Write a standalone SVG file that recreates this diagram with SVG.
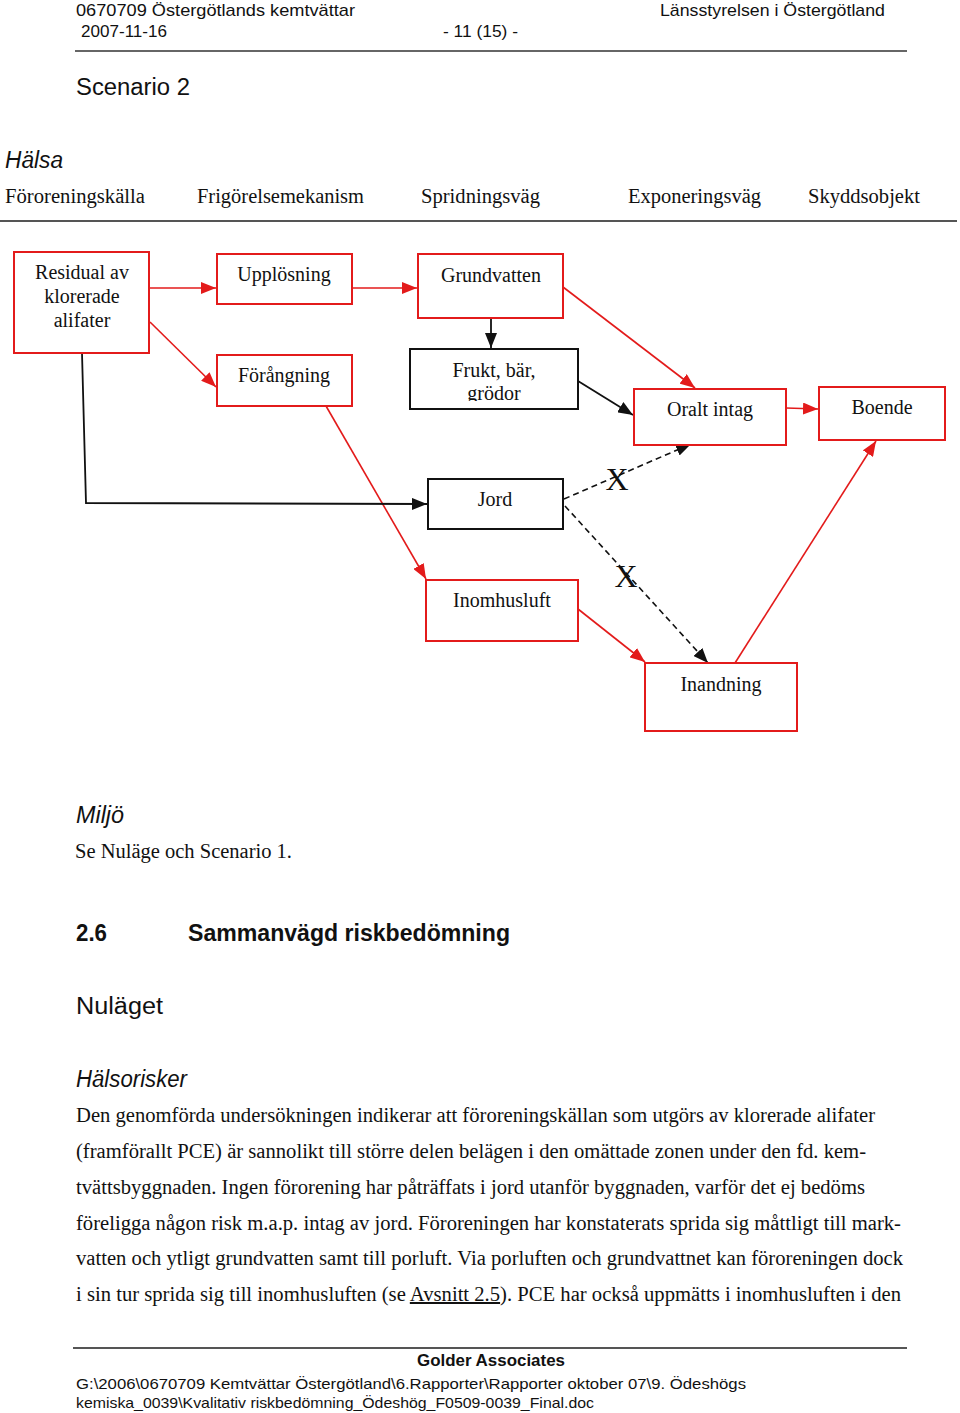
<svg xmlns="http://www.w3.org/2000/svg" width="960" height="1413" viewBox="0 0 960 1413">
<style>
.hd{font-family:"Liberation Sans",Arial,sans-serif;font-size:17px;fill:#111}
.h2{font-family:"Liberation Sans",Arial,sans-serif;font-size:23px;fill:#111}
.it{font-style:italic}
.bd{font-weight:bold}
.sr{font-family:"Liberation Serif","Times New Roman",serif;font-size:20px;fill:#111}
.ft{font-family:"Liberation Sans",Arial,sans-serif;font-size:15px;fill:#111}
.bxr{fill:#fff;stroke:#e31b1b;stroke-width:2}
.bxk{fill:#fff;stroke:#111;stroke-width:2}
.bt{font-family:"Liberation Serif","Times New Roman",serif;font-size:20px;fill:#111;text-anchor:middle}
.cr{fill:none;stroke:#e31b1b;stroke-width:1.6}
.ck{fill:none;stroke:#111;stroke-width:1.8}
.cd{fill:none;stroke:#111;stroke-width:1.6;stroke-dasharray:6,4}
.xm{font-family:"Liberation Serif","Times New Roman",serif;font-size:32px;fill:#111;text-anchor:middle}
</style>
<defs>
<marker id="ar" markerUnits="userSpaceOnUse" markerWidth="16" markerHeight="12" refX="15" refY="6" orient="auto"><path d="M0,0 L15,6 L0,12 z" fill="#e31b1b"/></marker>
<marker id="ak" markerUnits="userSpaceOnUse" markerWidth="16" markerHeight="12" refX="15" refY="6" orient="auto"><path d="M0,0 L15,6 L0,12 z" fill="#111"/></marker>
<clipPath id="fclip"><rect x="410" y="349" width="168" height="52"/></clipPath>
</defs>
<rect width="960" height="1413" fill="#fff"/>

<g id="header">
<text class="hd" x="76" y="16" textLength="279" lengthAdjust="spacingAndGlyphs">0670709 Östergötlands kemtvättar</text>
<text class="hd" x="81" y="37" textLength="86" lengthAdjust="spacingAndGlyphs">2007-11-16</text>
<text class="hd" x="443" y="37" textLength="75" lengthAdjust="spacingAndGlyphs">- 11 (15) -</text>
<text class="hd" x="660" y="16" textLength="225" lengthAdjust="spacingAndGlyphs">Länsstyrelsen i Östergötland</text>
<line x1="75" y1="51" x2="907" y2="51" stroke="#333" stroke-width="1.5"/>
<text class="h2" x="76" y="95" textLength="114" lengthAdjust="spacingAndGlyphs">Scenario 2</text>
<text class="h2 it" x="5" y="168" textLength="58" lengthAdjust="spacingAndGlyphs">Hälsa</text>
<text class="sr" x="5" y="203" textLength="140" lengthAdjust="spacingAndGlyphs">Föroreningskälla</text>
<text class="sr" x="197" y="203" textLength="167" lengthAdjust="spacingAndGlyphs">Frigörelsemekanism</text>
<text class="sr" x="421" y="203" textLength="119" lengthAdjust="spacingAndGlyphs">Spridningsväg</text>
<text class="sr" x="628" y="203" textLength="133" lengthAdjust="spacingAndGlyphs">Exponeringsväg</text>
<text class="sr" x="808" y="203" textLength="112" lengthAdjust="spacingAndGlyphs">Skyddsobjekt</text>
<line x1="0" y1="221" x2="957" y2="221" stroke="#555" stroke-width="2"/>
</g>

<g id="connectors">
<line class="cr" x1="149" y1="288" x2="216" y2="288" marker-end="url(#ar)"/>
<line class="cr" x1="352" y1="288" x2="417" y2="288" marker-end="url(#ar)"/>
<line class="cr" x1="150" y1="322" x2="216" y2="387" marker-end="url(#ar)"/>
<line class="ck" x1="491" y1="318" x2="491" y2="348" marker-end="url(#ak)"/>
<line class="cr" x1="563" y1="287" x2="695" y2="388" marker-end="url(#ar)"/>
<line class="ck" x1="578" y1="381" x2="633" y2="415" marker-end="url(#ak)"/>
<line class="cr" x1="786" y1="408" x2="818" y2="409" marker-end="url(#ar)"/>
<line class="cr" x1="735" y1="663" x2="876" y2="441" marker-end="url(#ar)"/>
<line class="cr" x1="326" y1="406" x2="426" y2="579" marker-end="url(#ar)"/>
<line class="cr" x1="578" y1="609" x2="645" y2="662" marker-end="url(#ar)"/>
<polyline class="ck" points="82,353 86,503 427,504" marker-end="url(#ak)"/>
<line class="cd" x1="564" y1="499" x2="691" y2="444" marker-end="url(#ak)"/>
<line class="cd" x1="565" y1="506" x2="708" y2="663" marker-end="url(#ak)"/>
<text class="xm" x="617" y="490">X</text>
<text class="xm" x="626" y="587">X</text>
</g>

<g id="n-residual">
<rect class="bxr" x="14" y="252" width="135" height="101"/>
<text class="bt" x="82" y="279">Residual av</text>
<text class="bt" x="82" y="303">klorerade</text>
<text class="bt" x="82" y="327">alifater</text>
</g>
<g id="n-upplosning">
<rect class="bxr" x="217" y="254" width="135" height="50"/>
<text class="bt" x="284" y="281">Upplösning</text>
</g>
<g id="n-forangning">
<rect class="bxr" x="217" y="355" width="135" height="51"/>
<text class="bt" x="284" y="382">Förångning</text>
</g>
<g id="n-grundvatten">
<rect class="bxr" x="418" y="254" width="145" height="64"/>
<text class="bt" x="491" y="282">Grundvatten</text>
</g>
<g id="n-frukt">
<rect class="bxk" x="410" y="349" width="168" height="60"/>
<g clip-path="url(#fclip)">
<text class="bt" x="494" y="377">Frukt, bär,</text>
<text class="bt" x="494" y="400">grödor</text>
</g>
</g>
<g id="n-oralt">
<rect class="bxr" x="634" y="389" width="152" height="56"/>
<text class="bt" x="710" y="416">Oralt intag</text>
</g>
<g id="n-boende">
<rect class="bxr" x="819" y="387" width="126" height="53"/>
<text class="bt" x="882" y="414">Boende</text>
</g>
<g id="n-jord">
<rect class="bxk" x="428" y="479" width="135" height="50"/>
<text class="bt" x="495" y="506">Jord</text>
</g>
<g id="n-inomhusluft">
<rect class="bxr" x="426" y="580" width="152" height="61"/>
<text class="bt" x="502" y="607">Inomhusluft</text>
</g>
<g id="n-inandning">
<rect class="bxr" x="645" y="663" width="152" height="68"/>
<text class="bt" x="721" y="691">Inandning</text>
</g>

<g id="body">
<text class="h2 it" x="76" y="823" textLength="48" lengthAdjust="spacingAndGlyphs">Miljö</text>
<text class="sr" x="75" y="858" textLength="217" lengthAdjust="spacingAndGlyphs">Se Nuläge och Scenario 1.</text>
<text class="h2 bd" x="76" y="941" textLength="31" lengthAdjust="spacingAndGlyphs">2.6</text>
<text class="h2 bd" x="188" y="941" textLength="322" lengthAdjust="spacingAndGlyphs">Sammanvägd riskbedömning</text>
<text class="h2" x="76" y="1014" textLength="87" lengthAdjust="spacingAndGlyphs">Nuläget</text>
<text class="h2 it" x="76" y="1087" textLength="111" lengthAdjust="spacingAndGlyphs">Hälsorisker</text>
<text class="sr" x="76" y="1122" textLength="799" lengthAdjust="spacingAndGlyphs">Den genomförda undersökningen indikerar att föroreningskällan som utgörs av klorerade alifater</text>
<text class="sr" x="76" y="1158" textLength="790" lengthAdjust="spacingAndGlyphs">(framförallt PCE) är sannolikt till större delen belägen i den omättade zonen under den fd. kem-</text>
<text class="sr" x="76" y="1194" textLength="789" lengthAdjust="spacingAndGlyphs">tvättsbyggnaden. Ingen förorening har påträffats i jord utanför byggnaden, varför det ej bedöms</text>
<text class="sr" x="76" y="1230" textLength="825" lengthAdjust="spacingAndGlyphs">föreligga någon risk m.a.p. intag av jord. Föroreningen har konstaterats sprida sig måttligt till mark-</text>
<text class="sr" x="76" y="1265" textLength="827" lengthAdjust="spacingAndGlyphs">vatten och ytligt grundvatten samt till porluft. Via porluften och grundvattnet kan föroreningen dock</text>
<text class="sr" x="76" y="1301" textLength="825" lengthAdjust="spacingAndGlyphs">i sin tur sprida sig till inomhusluften (se <tspan text-decoration="underline">Avsnitt 2.5</tspan>). PCE har också uppmätts i inomhusluften i den</text>
</g>

<g id="footer">
<line x1="73" y1="1348" x2="907" y2="1348" stroke="#555" stroke-width="2"/>
<text class="hd bd" x="417" y="1366" textLength="148" lengthAdjust="spacingAndGlyphs">Golder Associates</text>
<text class="ft" x="76" y="1389" textLength="670" lengthAdjust="spacingAndGlyphs">G:\2006\0670709 Kemtvättar Östergötland\6.Rapporter\Rapporter oktober 07\9. Ödeshögs</text>
<text class="ft" x="76" y="1408" textLength="518" lengthAdjust="spacingAndGlyphs">kemiska_0039\Kvalitativ riskbedömning_Ödeshög_F0509-0039_Final.doc</text>
</g>
</svg>
